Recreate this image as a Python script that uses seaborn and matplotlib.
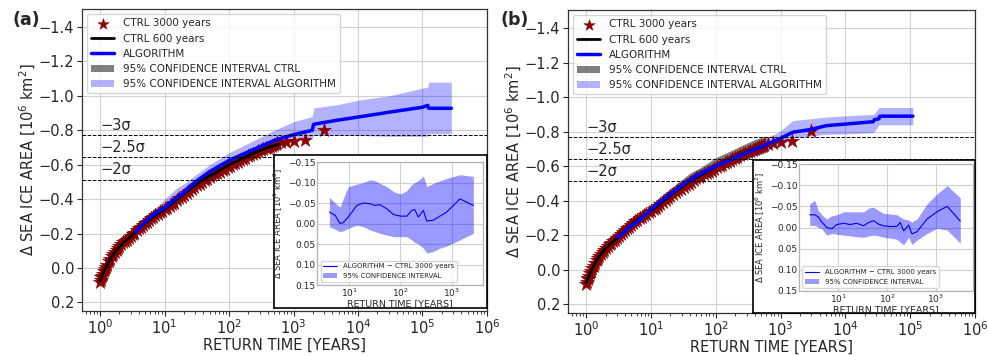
import numpy as np
import matplotlib
matplotlib.use("Agg")
import matplotlib.pyplot as plt
import seaborn as sns
from matplotlib.ticker import MultipleLocator

# CTRL 3000 years: return time [years] and sea ice area anomaly (same in both panels)
ctrl3000_T = [1.0, 1.02, 1.05, 1.08, 1.1, 1.15, 1.2, 1.25, 1.3, 1.37, 1.45, 1.52, 1.6, 1.7,
              1.8, 1.9, 2.0, 2.15, 2.3, 2.45, 2.6, 2.8, 3.0, 3.2, 3.4, 3.7, 4.0, 4.3, 4.6,
              5.0, 5.3, 5.7, 6.2, 6.7, 7.2, 7.8, 8.5, 9.2, 10, 11, 12, 13, 14, 15.5, 17,
              18.5, 20, 22, 24, 26.5, 29, 32, 35, 38, 42, 46, 50, 55, 60, 66, 72, 80, 87,
              95, 105, 115, 125, 137, 150, 165, 180, 197, 215, 237, 260, 285, 310, 340,
              370, 400, 430, 465, 500, 530, 560, 650, 760, 1000, 1500, 3000]
ctrl3000_y = [0.08, 0.07, 0.055, 0.045, 0.035, 0.02, 0.005, -0.008, -0.02, -0.038, -0.055,
              -0.068, -0.08, -0.093, -0.105, -0.115, -0.125, -0.138, -0.15, -0.158, -0.165,
              -0.175, -0.185, -0.195, -0.205, -0.218, -0.23, -0.24, -0.25, -0.262, -0.27,
              -0.28, -0.29, -0.298, -0.305, -0.315, -0.325, -0.333, -0.34, -0.35, -0.36,
              -0.37, -0.38, -0.393, -0.405, -0.415, -0.425, -0.438, -0.45, -0.46, -0.47,
              -0.48, -0.49, -0.5, -0.51, -0.52, -0.53, -0.538, -0.545, -0.553, -0.56,
              -0.568, -0.575, -0.585, -0.595, -0.603, -0.61, -0.618, -0.625, -0.633, -0.64,
              -0.648, -0.655, -0.663, -0.67, -0.678, -0.685, -0.69, -0.695, -0.70, -0.705,
              -0.71, -0.715, -0.72, -0.725, -0.73, -0.735, -0.738, -0.745, -0.803]

# CTRL 600 years
ctrl600_T = [1.0, 1.2, 1.5, 2.0, 3.0, 4.0, 6.0, 10, 15, 25, 40, 60, 100, 150, 250, 400, 600]
ctrl600_y = [0.075, 0.005, -0.065, -0.125, -0.185, -0.23, -0.285, -0.34, -0.395, -0.46, -0.515,
             -0.55, -0.6, -0.63, -0.67, -0.70, -0.72]
ctrl600_lo_a = [0.09, 0.02, -0.05, -0.11, -0.17, -0.215, -0.27, -0.325, -0.378, -0.44, -0.495,
                -0.53, -0.575, -0.605, -0.64, -0.67, -0.69]
ctrl600_hi_a = [0.06, -0.01, -0.08, -0.14, -0.2, -0.245, -0.3, -0.355, -0.412, -0.48, -0.535,
                -0.575, -0.628, -0.66, -0.705, -0.74, -0.765]
ctrl600_lo_b = [0.095, 0.025, -0.045, -0.105, -0.165, -0.21, -0.26, -0.315, -0.365, -0.43,
                -0.485, -0.52, -0.565, -0.595, -0.63, -0.66, -0.68]
ctrl600_hi_b = [0.055, -0.015, -0.085, -0.145, -0.205, -0.255, -0.315, -0.37, -0.43, -0.50,
                -0.56, -0.595, -0.65, -0.68, -0.72, -0.755, -0.775]

# ALGORITHM, panel (a)
algo_a_T = [3.6, 5, 7, 10, 15, 20, 30, 50, 100, 212, 500, 1000, 1950, 2050, 5000, 1e4, 3e4,
            1e5, 1.2e5, 1.25e5, 2.8e5]
algo_a_y = [-0.21, -0.27, -0.315, -0.35, -0.405, -0.44, -0.50, -0.56, -0.625, -0.68, -0.74,
            -0.775, -0.80, -0.835, -0.86, -0.877, -0.905, -0.934, -0.945, -0.928, -0.928]
algo_a_lo = [-0.19, -0.245, -0.29, -0.325, -0.37, -0.41, -0.47, -0.53, -0.585, -0.64, -0.70,
             -0.75, -0.76, -0.77, -0.77, -0.77, -0.765, -0.765, -0.765, -0.78, -0.78]
algo_a_hi = [-0.23, -0.295, -0.345, -0.40, -0.46, -0.49, -0.54, -0.60, -0.67, -0.73, -0.80,
             -0.85, -0.88, -0.93, -0.95, -0.975, -1.0, -1.045, -1.05, -1.08, -1.08]

# ALGORITHM, panel (b)
algo_b_T = [3.0, 3.8, 4.2, 5, 7, 10, 15, 20, 30, 50, 100, 200, 470, 960, 1540, 2800, 5100,
            1.05e4, 2.7e4, 2.8e4, 3.3e4, 3.4e4, 1.1e5]
algo_b_y = [-0.19, -0.21, -0.235, -0.255, -0.295, -0.35, -0.405, -0.44, -0.49, -0.545, -0.60,
            -0.65, -0.709, -0.758, -0.797, -0.812, -0.835, -0.845, -0.858, -0.87, -0.875,
            -0.89, -0.89]
algo_b_lo = [-0.175, -0.195, -0.215, -0.235, -0.275, -0.33, -0.385, -0.42, -0.47, -0.52, -0.575,
             -0.62, -0.675, -0.72, -0.765, -0.775, -0.785, -0.787, -0.795, -0.80, -0.84,
             -0.84, -0.84]
algo_b_hi = [-0.205, -0.225, -0.255, -0.275, -0.315, -0.37, -0.425, -0.46, -0.51, -0.57, -0.625,
             -0.68, -0.745, -0.80, -0.864, -0.875, -0.885, -0.893, -0.90, -0.905, -0.94,
             -0.94, -0.94]

# inset: ALGORITHM - CTRL 3000 years
diff_a_T = [4.1, 5.3, 6.6, 7.6, 9.6, 14, 19, 26, 32, 40, 54, 73, 100, 133, 166, 190, 224,
            280, 326, 440, 590, 800, 1450, 2650]
diff_a_y = [-0.028, -0.02, 0.0, -0.002, -0.016, -0.044, -0.05, -0.048, -0.044, -0.046, -0.036,
            -0.022, -0.018, -0.018, -0.032, -0.034, -0.016, -0.032, -0.006, -0.008, -0.018,
            -0.028, -0.06, -0.044]
diff_a_hi = [-0.064, -0.05, -0.04, -0.06, -0.09, -0.096, -0.10, -0.107, -0.104, -0.098, -0.09,
             -0.078, -0.072, -0.08, -0.095, -0.10, -0.105, -0.116, -0.09, -0.098, -0.104,
             -0.11, -0.119, -0.115]
diff_a_lo = [0.008, 0.014, 0.02, 0.018, 0.012, 0.004, 0.008, 0.016, 0.02, 0.024, 0.028, 0.032,
             0.032, 0.032, 0.04, 0.046, 0.05, 0.06, 0.072, 0.068, 0.06, 0.055, 0.04, 0.024]

diff_b_T = [2.6, 3.3, 3.9, 4.6, 5.8, 7.4, 9.3, 12.8, 17.5, 24, 33, 42, 53, 67, 85, 117, 160,
            186, 219, 277, 322, 410, 660, 1050, 1700, 3160]
diff_b_y = [-0.03, -0.03, -0.025, -0.013, 0.0, 0.003, -0.007, -0.01, -0.007, -0.01, -0.004,
            -0.012, -0.016, -0.008, -0.004, -0.002, -0.003, -0.012, 0.008, -0.006, 0.015,
            0.01, -0.02, -0.037, -0.05, -0.015]
diff_b_hi = [-0.056, -0.064, -0.04, -0.03, -0.02, -0.028, -0.03, -0.037, -0.037, -0.037, -0.037,
             -0.046, -0.048, -0.04, -0.033, -0.032, -0.03, -0.025, -0.02, -0.018, -0.013,
             -0.02, -0.056, -0.079, -0.099, -0.07]
diff_b_lo = [-0.005, -0.005, 0.0, 0.003, 0.018, 0.014, 0.016, 0.018, 0.02, 0.022, 0.023, 0.02,
             0.018, 0.02, 0.023, 0.025, 0.028, 0.035, 0.041, 0.023, 0.04, 0.03, 0.014, 0.002,
             0.006, 0.037]

sigma_levels = [-0.771, -0.643, -0.514]
sigma_labels = ["\u22123\u03c3", "\u22122.5\u03c3", "\u22122\u03c3"]

ylab = "\u0394 SEA ICE AREA [10$^6$ km$^2$]"
xlab = "RETURN TIME [YEARS]"

sns.set_style("whitegrid", {"axes.edgecolor": "0.2", "xtick.bottom": True, "ytick.left": True,
                            "grid.color": "0.82"})
plt.rcParams["font.family"] = ["DejaVu Sans"]
plt.rcParams["xtick.major.size"] = 3.5
plt.rcParams["xtick.minor.size"] = 2
plt.rcParams["ytick.major.size"] = 3.5
plt.rcParams["axes.linewidth"] = 0.9


def main_panel(ax, algo_T, algo_y, algo_lo, algo_hi, ci_lo, ci_hi):
    ax.set_xscale("log")
    ax.fill_between(ctrl600_T, ci_lo, ci_hi, color="k", alpha=0.5, lw=0, zorder=1,
                    label="95% CONFIDENCE INTERVAL CTRL")
    ax.fill_between(algo_T, algo_lo, algo_hi, color="blue", alpha=0.3, lw=0, zorder=2,
                    label="95% CONFIDENCE INTERVAL ALGORITHM")
    sns.scatterplot(x=ctrl3000_T, y=ctrl3000_y, ax=ax, marker="*", s=115, color="darkred",
                    edgecolor="darkred", linewidth=0.3, zorder=3, label="CTRL 3000 years")
    sns.lineplot(x=ctrl600_T, y=ctrl600_y, ax=ax, color="black", lw=2.0, zorder=4,
                 label="CTRL 600 years")
    sns.lineplot(x=algo_T, y=algo_y, ax=ax, color="blue", lw=2.5, zorder=5, label="ALGORITHM")
    for lev, lab in zip(sigma_levels, sigma_labels):
        ax.axhline(lev, color="k", ls="--", lw=0.7, zorder=6)
        ax.text(1.0, lev - 0.012, lab, fontsize=10.5, ha="left", va="bottom", zorder=6)
    ax.set_xlim(10 ** -0.28, 1e6)
    ax.set_ylim(0.25, -1.505)
    ax.yaxis.set_major_locator(MultipleLocator(0.2))
    ax.tick_params(axis="both", labelsize=10.5, pad=2)
    ax.set_xlabel(xlab, fontsize=10.5, labelpad=0)
    ax.set_ylabel(ylab, fontsize=10.5, labelpad=0.5)
    handles, labels = ax.get_legend_handles_labels()
    order = ["CTRL 3000 years", "CTRL 600 years", "ALGORITHM",
             "95% CONFIDENCE INTERVAL CTRL", "95% CONFIDENCE INTERVAL ALGORITHM"]
    hmap = dict(zip(labels, handles))
    leg = ax.legend([hmap[k] for k in order], order, loc="upper left", fontsize=7.5,
                    handlelength=2.2)
    leg.legend_handles[0].set_sizes([75])


def inset_panel(frame_rect, rect, T, y, lo, hi, xlim):
    frame = fig.add_axes(frame_rect)
    frame.set_facecolor("white")
    frame.set_xticks([])
    frame.set_yticks([])
    frame.grid(False)
    for sp in frame.spines.values():
        sp.set_color("black")
        sp.set_linewidth(1.2)
    ins = fig.add_axes(rect)
    ins.set_xscale("log")
    ins.fill_between(T, lo, hi, color="blue", alpha=0.4, lw=0, label="95% CONFIDENCE INTERVAL")
    sns.lineplot(x=T, y=y, ax=ins, color="blue", lw=0.8, label="ALGORITHM \u2212 CTRL 3000 years")
    ins.set_xlim(*xlim)
    ins.set_ylim(0.15, -0.15)
    ins.yaxis.set_major_locator(MultipleLocator(0.05))
    ins.tick_params(axis="both", labelsize=6.5, length=0, pad=1, which="both")
    for sp in ins.spines.values():
        sp.set_color("0.7")
    ins.set_xlabel(xlab, fontsize=6.8, labelpad=0)
    ins.set_ylabel(ylab, fontsize=6, labelpad=2)
    h, l = ins.get_legend_handles_labels()
    ins.legend(h[::-1], l[::-1], loc="lower left", fontsize=5)


fig = plt.figure(figsize=(9.88, 3.56), dpi=100)

ax_a = fig.add_axes([0.0830, 0.1264, 0.4099, 0.8483])
main_panel(ax_a, algo_a_T, algo_a_y, algo_a_lo, algo_a_hi, ctrl600_lo_a, ctrl600_hi_a)
inset_panel([0.2773, 0.1348, 0.2156, 0.4298], [0.3209, 0.1994, 0.1680, 0.3455],
            diff_a_T, diff_a_y, diff_a_lo, diff_a_hi, (2.35, 4100))

ax_b = fig.add_axes([0.5749, 0.1208, 0.4119, 0.8511])
main_panel(ax_b, algo_b_T, algo_b_y, algo_b_lo, algo_b_hi, ctrl600_lo_b, ctrl600_hi_b)
inset_panel([0.7621, 0.1208, 0.2247, 0.4298], [0.8087, 0.1826, 0.1761, 0.3567],
            diff_b_T, diff_b_y, diff_b_lo, diff_b_hi, (1.57, 5750))

fig.text(0.013, 0.944, "(a)", fontsize=12.5, fontweight="bold", va="center")
fig.text(0.507, 0.944, "(b)", fontsize=12.5, fontweight="bold", va="center")

fig.savefig("out.png", dpi=100)
